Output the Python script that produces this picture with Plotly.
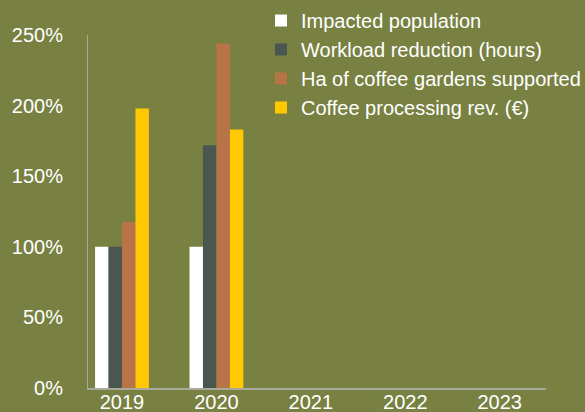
import plotly.graph_objects as go

years = ["2019", "2020", "2021", "2022", "2023"]
impacted_population = [1.00, 1.00, None, None, None]
workload_reduction = [1.00, 1.72, None, None, None]
ha_coffee_gardens = [1.175, 2.44, None, None, None]
coffee_processing_rev = [1.98, 1.83, None, None, None]

series = [
    ("Impacted population", impacted_population, "#FFFFFF"),
    ("Workload reduction (hours)", workload_reduction, "#4A5650"),
    ("Ha of coffee gardens supported", ha_coffee_gardens, "#B87447"),
    ("Coffee processing rev. (€)", coffee_processing_rev, "#FFC800"),
]

W, H = 585, 412
L, R, T, B = 88, 39, 35, 24
PW, PH = W - L - R, H - T - B
bg = "#788142"
fig = go.Figure()
for name, vals, col in series:
    fig.add_trace(go.Bar(x=years, y=vals, name=name, marker=dict(color=col, line=dict(width=0))))

fig.update_layout(
    width=W, height=H,
    paper_bgcolor=bg, plot_bgcolor=bg,
    margin=dict(l=L, r=R, t=T, b=B, autoexpand=False),
    barmode="group", bargap=0.43, bargroupgap=0,
    font=dict(family="Liberation Sans, Arial, sans-serif", color="white", size=20),
    legend=dict(x=(261 - L) / PW, y=(H - B - 1) / PH, xanchor="left", yanchor="top",
                font=dict(size=20, color="white"), bgcolor="rgba(0,0,0,0)",
                traceorder="normal"),
    xaxis=dict(type="category", range=[-0.36, 4.49], showline=True, linecolor="#A7A99A", linewidth=2,
               showgrid=False, ticks="", ticklabelstandoff=-5,
               tickfont=dict(size=20, color="white"), fixedrange=True),
    yaxis=dict(range=[0, 2.5], tickvals=[0, 0.5, 1.0, 1.5, 2.0, 2.5], tickformat=".0%",
               showline=True, linecolor="#A7A99A", linewidth=1, showgrid=False, zeroline=False,
               ticks="", ticklabelstandoff=20, tickfont=dict(size=20, color="white"), fixedrange=True),
)

fig.write_html("out.html", config={"displayModeBar": False},
               post_script="document.body.style.margin='0';")
